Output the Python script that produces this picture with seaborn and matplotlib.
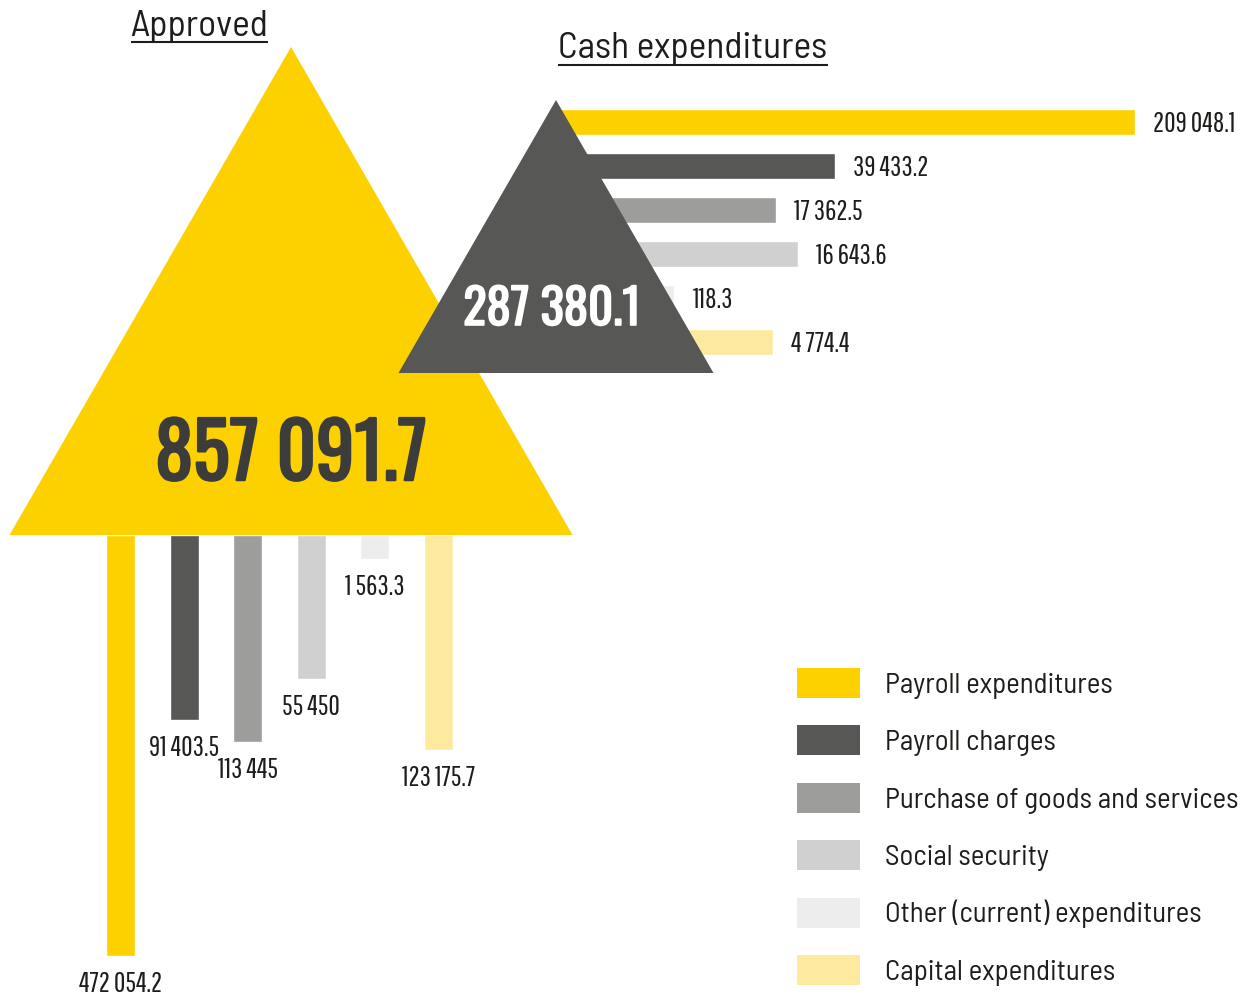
import numpy as np
import pandas as pd
import matplotlib
matplotlib.use("Agg")
import matplotlib.pyplot as plt
from matplotlib.patches import Polygon, Patch
import matplotlib.patheffects as pe
import seaborn as sns

# Budget structure by economic category
categories = ["Payroll expenditures", "Payroll charges", "Purchase of goods and services",
              "Social security", "Other (current) expenditures", "Capital expenditures"]
approved = [472054.2, 91403.5, 113445.0, 55450.0, 1563.3, 123175.7]
cash = [209048.1, 39433.2, 17362.5, 16643.6, 118.3, 4774.4]
colors = ["#FDD000", "#575756", "#9D9D9C", "#D0D0D0", "#EDEDED", "#FDEA9E"]
titles = ["Approved", "Cash expenditures"]

W, H = 1249, 998
TEXT = "#1D1D1B"
NUM_FONT = ["Pathway Gothic One", "DejaVu Sans"]
BIG_FONT = ["Oswald", "DejaVu Sans"]


def fmt(v):
    s = f"{v:,.1f}".replace(",", " ")
    return s[:-2] if s.endswith(".0") else s


def frac(x0, y0, w, h):
    """Pixel box measured from the top-left corner -> figure fraction rect."""
    return [x0 / W, 1 - (y0 + h) / H, w / W, h / H]


def sqrt_fwd(v):
    return np.sqrt(np.clip(v, 0, None))


def sqrt_inv(t):
    return np.square(t)


sns.set_theme(style="white")
plt.rcParams["font.family"] = ["Barlow Semi Condensed", "DejaVu Sans"]

fig = plt.figure(figsize=(W / 100, H / 100), dpi=100)

# triangle geometry (equilateral), in pixels
big_apex, big_base, big_half = (291, 47), 535, 281.5
small_apex, small_base, small_half = (556, 100), 373, 157.5


def small_right_edge(y):
    return small_apex[0] + (y - small_apex[1]) * small_half / (small_base - small_apex[1])


# --- approved: bars hanging below the large triangle -------------------------
ax_a = fig.add_axes(frac(88.7, big_base, 381.6, H - big_base), zorder=1)
df_a = pd.DataFrame({"category": categories, "value": approved})
sns.barplot(data=df_a, x="category", y="value", hue="category", palette=colors,
            saturation=1, width=0.456, legend=False, ax=ax_a)
ax_a.set_yscale("function", functions=(sqrt_fwd, sqrt_inv))
ax_a.set_ylim(570000, 0)
ax_a.set_xlim(-0.5, len(categories) - 0.5)
ax_a.axis("off")
for i, v in enumerate(approved):
    ax_a.annotate(fmt(v), xy=(i, v), xytext=(0, -36), textcoords="offset pixels",
                  ha="center", va="baseline", fontsize=20, family=NUM_FONT,
                  color=TEXT, annotation_clip=False)

# --- cash expenditures: bars coming out of the small triangle -----------------
row_h, row_step, first_center = 26, 44, 122
for i, (cat, v, c) in enumerate(zip(categories, cash, colors)):
    top = first_center + row_step * i - row_h / 2
    left = small_right_edge(top) - 2
    axh = fig.add_axes(frac(left, top, 604, row_h), zorder=1)
    sns.barplot(x=[v], y=[cat], orient="h", color=c, saturation=1, width=1, ax=axh)
    axh.set_xscale("function", functions=(sqrt_fwd, sqrt_inv))
    axh.set_xlim(0, 230000)
    axh.set_ylim(0.5, -0.5)
    axh.axis("off")
    axh.annotate(fmt(v), xy=(v, 0), xytext=(18, -10), textcoords="offset pixels",
                 ha="left", va="baseline", fontsize=20, family=NUM_FONT,
                 color=TEXT, annotation_clip=False)

# --- overlay: triangles, totals, titles --------------------------------------
ov = fig.add_axes([0, 0, 1, 1], zorder=5)
ov.set_xlim(0, W)
ov.set_ylim(H, 0)
ov.axis("off")
ov.patch.set_alpha(0)

ov.add_patch(Polygon([(big_apex[0] - big_half, big_base), big_apex, (big_apex[0] + big_half, big_base)],
                     closed=True, facecolor=colors[0], edgecolor="none"))
ov.add_patch(Polygon([(small_apex[0] - small_half, small_base), small_apex,
                      (small_apex[0] + small_half, small_base)],
                     closed=True, facecolor=colors[1], edgecolor="none"))

ov.text(big_apex[0], 480, fmt(round(sum(approved), 1)), ha="center", va="baseline",
        fontsize=55, fontweight="bold", family=BIG_FONT, color="#3C3C3B",
        path_effects=[pe.withStroke(linewidth=1.8, foreground="#3C3C3B")])
ov.text(552, 325, fmt(round(sum(cash), 1)), ha="center", va="baseline",
        fontsize=35, fontweight="bold", family=BIG_FONT, color="white",
        path_effects=[pe.withStroke(linewidth=1.2, foreground="white")])

title_a = ov.text(199.5, 36, titles[0], ha="center", va="baseline", fontsize=27, color=TEXT)
title_c = ov.text(693, 58, titles[1], ha="center", va="baseline", fontsize=27, color=TEXT)

# --- legend -------------------------------------------------------------------
fs = 20.8
px = fs * 100 / 72
handles = [Patch(facecolor=c, edgecolor="none", label=cat) for cat, c in zip(categories, colors)]
fig.legend(handles=handles, loc="upper left", bbox_to_anchor=(797 / W, 1 - 668 / H),
           frameon=False, fontsize=fs, handlelength=63 / px, handleheight=35 / px,
           handletextpad=25 / px, labelspacing=26.8 / px, borderpad=0, borderaxespad=0,
           labelcolor=TEXT)

# underline the two titles
fig.canvas.draw()
inv = ov.transData.inverted()
for t, y in ((title_a, 41.5), (title_c, 64.5)):
    bb = t.get_window_extent()
    x0 = inv.transform((bb.x0, 0))[0]
    x1 = inv.transform((bb.x1, 0))[0]
    ov.plot([x0, x1], [y, y], color=TEXT, lw=1.5, solid_capstyle="butt")

fig.savefig("out.png", dpi=100)
